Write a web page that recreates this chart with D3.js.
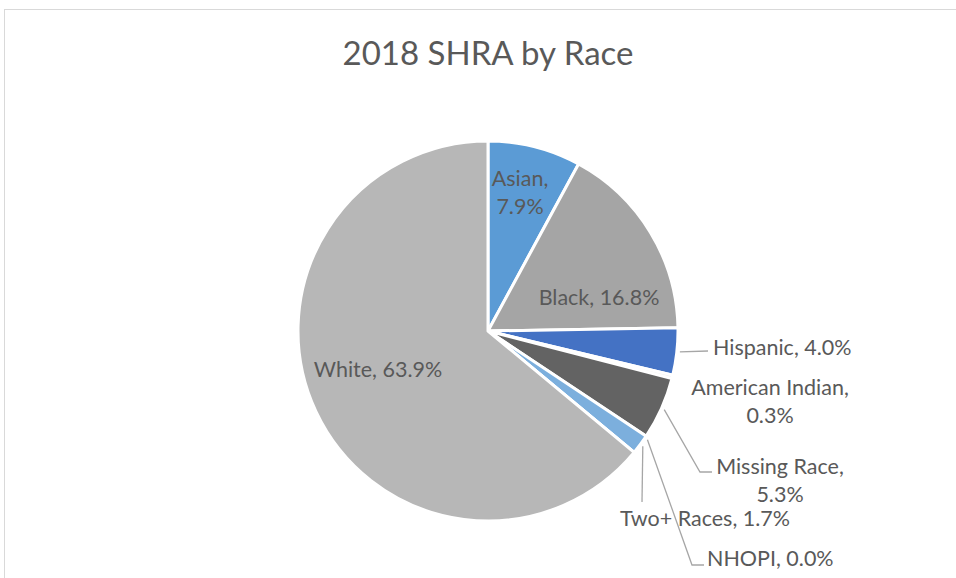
<!DOCTYPE html>
<html>
<head>
<meta charset="utf-8">
<script src="https://cdn.jsdelivr.net/npm/d3@7"></script>
<style>
  body { margin: 0; background: #fff; }
  svg text { font-family: Lato, "Open Sans", sans-serif; fill: #595959; }
</style>
</head>
<body>
<div id="chart"></div>
<script>
'use strict'

var width = 956;
var height = 578;

// data
var races = ["Asian", "Black", "Hispanic", "American Indian", "Missing Race", "Two+ Races", "NHOPI", "White"];
var shares = [7.9, 16.8, 4.0, 0.3, 5.3, 1.7, 0.0, 63.9];
var colors = ["#5b9bd5", "#a5a5a5", "#4472c4", "#f2f2f2", "#636363", "#7cafdd", "#997300", "#b7b7b7"];

var cx = 488, cy = 331, radius = 190;

// label placement, relative to pie centre
var labelLayout = {
    "Asian":           { dx: 32, dy: -139, anchor: "middle", lines: ["Asian,", "7.9%"] },
    "Black":           { dx: 111, dy: -34, anchor: "middle" },
    "Hispanic":        { dx: 225, dy: 16, anchor: "start", leader: [[220, 20]] },
    "American Indian": { dx: 282, dy: 70, anchor: "middle", lines: ["American Indian,", "0.3%"] },
    "Missing Race":    { dx: 292, dy: 149, anchor: "middle", lines: ["Missing Race,", "5.3%"], leader: [[212, 141], [224, 141]] },
    "Two+ Races":      { dx: 217, dy: 187, anchor: "middle", leader: [[154, 171]] },
    "NHOPI":           { dx: 219, dy: 227, anchor: "start", leader: [[204, 234], [216, 234]], startAngle: 124.3 },
    "White":           { dx: -110, dy: 38, anchor: "middle" }
};

var svg = d3.select("#chart").append("svg")
    .attr("width", width)
    .attr("height", height);

svg.append("rect")
    .attr("x", 4.5).attr("y", 9.5)
    .attr("width", 1200).attr("height", 1200)
    .attr("fill", "#fff")
    .attr("stroke", "#d9d9d9")
    .attr("stroke-width", 1);

svg.append("text")
    .attr("x", 488)
    .attr("y", 65)
    .attr("text-anchor", "middle")
    .style("font-size", "33px")
    .text("2018 SHRA by Race");

var data = races.map(function(r, i) {
    return { race: r, value: shares[i], color: colors[i] };
});

var pie = d3.pie()
    .value(function(d) { return d.value; })
    .sort(null);

var arc = d3.arc()
    .innerRadius(0)
    .outerRadius(radius);

var arcs = pie(data);

var g = svg.append("g")
    .attr("transform", "translate(" + cx + "," + cy + ")");

g.selectAll(".slice").data(arcs).enter().append("path")
    .attr("class", "slice")
    .attr("d", arc)
    .attr("fill", function(d) { return d.data.color; })
    .attr("stroke", "#fff")
    .attr("stroke-width", 3)
    .attr("stroke-linejoin", "round");

// leader lines
arcs.forEach(function(d) {
    var lay = labelLayout[d.data.race];
    if (!lay.leader) return;
    var a = lay.startAngle != null ? lay.startAngle * Math.PI / 180 : (d.startAngle + d.endAngle) / 2;
    var r0 = radius + 3;
    var pts = [[r0 * Math.sin(a), -r0 * Math.cos(a)]].concat(lay.leader);
    g.append("path")
        .attr("d", d3.line()(pts))
        .attr("fill", "none")
        .attr("stroke", "#a6a6a6")
        .attr("stroke-width", 1.3);
});

// labels
arcs.forEach(function(d) {
    var lay = labelLayout[d.data.race];
    var lines = lay.lines || [d.data.race + ", " + d.data.value.toFixed(1) + "%"];
    var lh = 28;
    var t = g.append("text")
        .attr("text-anchor", lay.anchor)
        .style("font-size", "21.5px");
    lines.forEach(function(s, i) {
        t.append("tspan")
            .attr("x", lay.dx)
            .attr("y", lay.dy + (i - (lines.length - 1) / 2) * lh)
            .attr("dy", "0.35em")
            .text(s);
    });
});
</script>
</body>
</html>
